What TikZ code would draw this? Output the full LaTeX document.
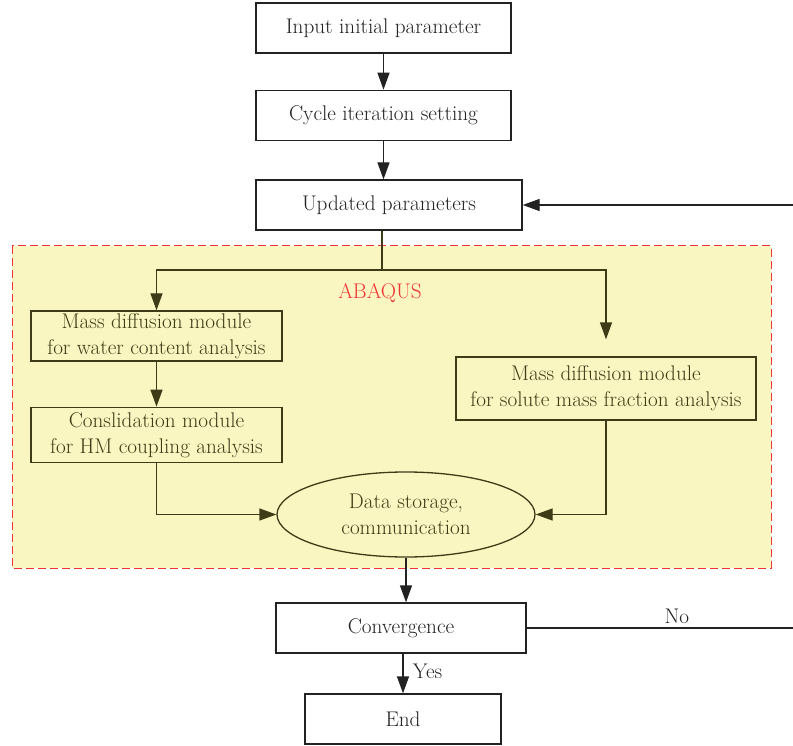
\documentclass[tikz,border=0pt]{standalone}
\usepackage{xcolor}
\usepackage{tikz}
\usetikzlibrary{shapes,arrows.meta,positioning,calc}
\definecolor{inkgray}{RGB}{34,34,34}
\definecolor{inkolive}{RGB}{62,60,22}
\definecolor{abqfill}{RGB}{250,246,194}
\definecolor{abqred}{RGB}{238,52,52}
\tikzstyle{block} = [rectangle, draw=inkgray, fill=white, text=inkgray, align=center, minimum height=50pt, inner sep=0pt, line width=1.3pt]
\tikzstyle{module} = [block, draw=inkolive, fill=abqfill, text=inkolive]
\tikzstyle{store} = [draw=inkolive, ellipse, fill=abqfill, text=inkolive, align=center, minimum width=258pt, minimum height=85pt, inner sep=0pt, line width=1.3pt]
\tikzstyle{line} = [draw=inkgray, -{Triangle[length=17pt,width=12pt]}, line width=1.3pt]
\tikzstyle{oline} = [line, draw=inkolive, -{Triangle[length=17pt,width=12pt]}]

\begin{document}
\begin{tikzpicture}[x=1pt, y=-1pt, font=\fontsize{21.2}{26}\selectfont]
        \useasboundingbox (0,0) rectangle (793,746);
        % ABAQUS region
        \draw [fill=abqfill, draw=abqred, line width=1pt, dash pattern=on 8pt off 4pt] (12,246) rectangle (771,568);
        \node [text=abqred] (abaqus) at (380,293) {ABAQUS};

        % Nodes
        \node [block, minimum width=255pt] (input) at (383.5,28) {Input initial parameter};
        \node [block, minimum width=255pt, below=36pt of input] (cycle) {Cycle iteration setting};
        \node [block, minimum width=266pt] (updated) at (389,205) {Updated parameters};
        \node [module, minimum width=251pt] (mdw) at (156.5,336) {Mass diffusion module\\for water content analysis};
        \node [module, minimum width=251pt, minimum height=55pt, below=45pt of mdw] (cons) {Conslidation module\\for HM coupling analysis};
        \node [module, minimum width=300pt, minimum height=63pt] (mds) at (606,388.5) {Mass diffusion module\\for solute mass fraction analysis};
        \node [store] (data) at (406,514.5) {Data storage,\\communication};
        \node [block, minimum width=250pt] (conv) at (401,628) {Convergence};
        \node [block, minimum width=196pt] (end) at (403,719) {End};
        \coordinate (split) at (382,270);
        \coordinate (back) at (795,628);

        % Paths
        \path [line] (input) -- (cycle);
        \path [line] (cycle.south) -- (cycle.south |- updated.north);
        \draw [draw=inkolive, line width=1.3pt] (updated.south -| split) -- (split);
        \path [oline] (split) -| (mdw);
        \path [oline, shorten >=17pt] (split) -| (mds);
        \path [oline] (mdw) -- (cons);
        \path [oline] (cons) |- (data);
        \path [oline] (mds) |- (data);
        \path [line] (data.south) -- (data.south |- conv.north);
        \path [line] (conv.south -| end) -- node [right, text=inkgray, pos=0.45, xshift=6pt] {Yes} (end);

        % Loop back
        \path [line] (conv.east) -- node [above, text=inkgray, pos=0.56] {No} (back) |- (updated.east);
    \end{tikzpicture}
\end{document}
